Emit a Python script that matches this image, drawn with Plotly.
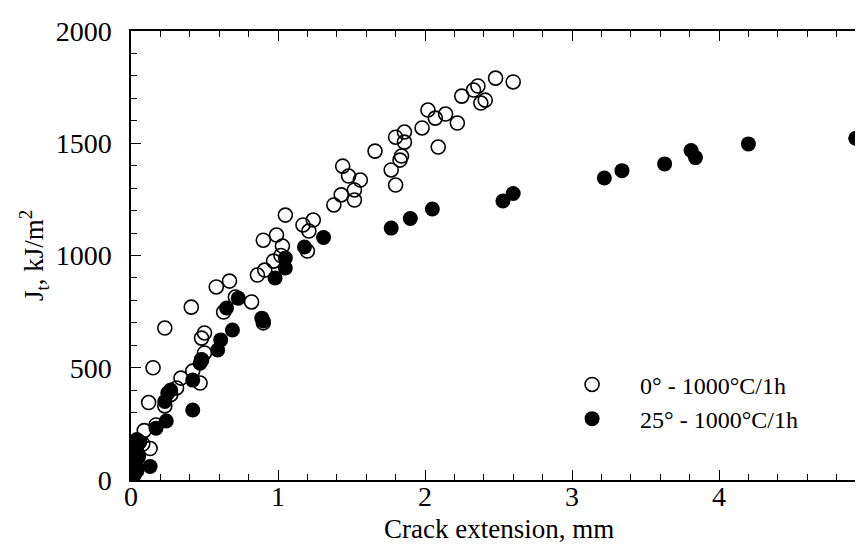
import plotly.graph_objects as go

# Open circles: 0° - 1000°C/1h
open_x = [0.00, 0.01, 0.03, 0.05, 0.08, 0.09, 0.13, 0.12, 0.15, 0.17, 0.23, 0.27, 0.31, 0.34,
          0.42, 0.47, 0.48, 0.50, 0.48, 0.50, 0.23, 0.41, 0.58, 0.67, 0.63, 0.71, 0.82, 0.86,
          0.91, 0.90, 0.97, 0.90, 0.99, 1.03, 1.05, 1.02, 1.17, 1.24, 1.21, 1.20, 1.38, 1.43,
          1.52, 1.52, 1.56, 1.48, 1.44, 1.66, 1.77, 1.80, 1.80, 1.86, 1.86, 1.84, 1.83, 2.09,
          1.98, 2.02, 2.07, 2.14, 2.22, 2.25, 2.33, 2.36, 2.38, 2.41, 2.48, 2.60]
open_y = [10, 30, 60, 110, 160, 220, 140, 345, 500, 245, 330, 380, 410, 454,
          485, 432, 535, 566, 632, 655, 677, 770, 860, 886, 748, 815, 793, 913,
          935, 700, 975, 1068, 1091, 1042, 1180, 1000, 1136, 1158, 1109, 1020, 1225, 1270,
          1247, 1292, 1336, 1354, 1398, 1465, 1381, 1314, 1527, 1550, 1505, 1443, 1425, 1483,
          1568, 1648, 1612, 1630, 1590, 1710, 1737, 1755, 1679, 1692, 1790, 1773]

# Filled circles: 25° - 1000°C/1h
fill_x = [0.00, 0.02, 0.04, 0.03, 0.00, 0.05, 0.02, 0.03, 0.04, 0.06, 0.13, 0.17, 0.24, 0.23,
          0.25, 0.27, 0.42, 0.42, 0.48, 0.47, 0.59, 0.61, 0.69, 0.65, 0.73, 0.89, 0.90, 0.98,
          1.05, 1.05, 1.18, 1.31, 1.77, 1.90, 2.05, 2.53, 2.60, 3.22, 3.34, 3.63, 3.81, 3.84,
          4.20, 4.93]
fill_y = [5, 20, 40, 80, 110, 100, 130, 150, 180, 170, 60, 231, 263, 350,
          387, 401, 312, 445, 535, 520, 579, 624, 668, 766, 810, 721, 708, 900,
          944, 989, 1038, 1080, 1122, 1165, 1207, 1243, 1276, 1345, 1378, 1408, 1468, 1436,
          1497, 1522]

series_names = ["0\u00b0 - 1000\u00b0C/1h", "25\u00b0 - 1000\u00b0C/1h"]
x_title = "Crack extension, mm"
y_title = "J<sub>t</sub>, kJ/m<sup>2</sup>"

FONT = "Liberation Serif, Times New Roman, serif"

fig = go.Figure()
fig.add_trace(go.Scatter(
    x=open_x, y=open_y, mode="markers", name=series_names[0],
    marker=dict(symbol="circle-open", size=14, color="black", line=dict(width=1.6, color="black")),
))
fig.add_trace(go.Scatter(
    x=fill_x, y=fill_y, mode="markers", name=series_names[1],
    marker=dict(symbol="circle", size=15, color="black"),
))

axis_common = dict(
    showline=True, linecolor="black", linewidth=1.5, mirror="allticks",
    ticks="inside", ticklen=10, tickwidth=1.2, tickcolor="black",
    showgrid=False, zeroline=False, automargin=False,
    ticklabeloverflow="allow",
    tickfont=dict(family=FONT, size=28, color="black"),
)

fig.update_xaxes(
    range=[0, 5], dtick=1, tick0=0,
    minor=dict(dtick=0.2, ticks="inside", ticklen=6, tickwidth=1.0, tickcolor="black"),
    ticklabelstandoff=-9,
    **axis_common,
)
fig.update_yaxes(
    range=[0, 2000], dtick=500, tick0=0,
    title=dict(text=y_title, font=dict(family=FONT, size=27, color="black"), standoff=4),
    minor=dict(dtick=100, ticks="inside", ticklen=6, tickwidth=1.0, tickcolor="black"),
    ticklabelstandoff=12,
    **axis_common,
)

fig.add_annotation(
    text=x_title, xref="paper", yref="paper", x=0.5, y=-0.11,
    xanchor="center", yanchor="middle", showarrow=False,
    font=dict(family=FONT, size=27, color="black"),
)

fig.update_layout(
    width=863, height=544,
    margin=dict(l=123, r=5, t=23, b=72),
    paper_bgcolor="white", plot_bgcolor="white",
    font=dict(family=FONT, color="black"),
    showlegend=True,
    legend=dict(
        x=0.562, y=0.262, xanchor="left", yanchor="top",
        font=dict(family=FONT, size=24, color="black"),
        bgcolor="rgba(0,0,0,0)", itemwidth=86, tracegroupgap=0,
    ),
)

fig.write_html("out.html")
